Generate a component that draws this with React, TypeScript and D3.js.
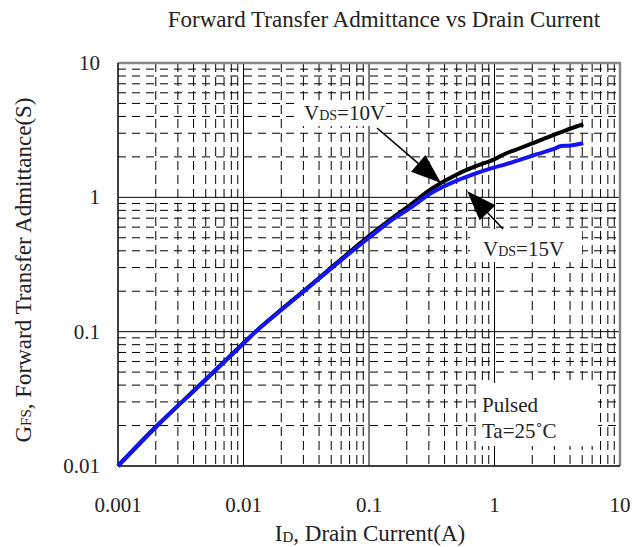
import React from "react";
import * as d3 from "d3";

const current = [0.001, 0.002, 0.005, 0.01, 0.0122, 0.02, 0.03, 0.05, 0.1, 0.163, 0.2, 0.316, 0.5, 0.7, 1, 1.22, 1.5, 2, 3, 3.4, 4, 5.1];
const vds10 = [0.01, 0.0195, 0.044, 0.082, 0.098, 0.146, 0.2, 0.3, 0.515, 0.73, 0.84, 1.16, 1.48, 1.7, 1.92, 2.11, 2.27, 2.52, 2.93, 3.06, 3.24, 3.5];
const vds15 = [0.01, 0.0195, 0.044, 0.082, 0.098, 0.145, 0.198, 0.296, 0.5, 0.71, 0.8, 1.08, 1.33, 1.5, 1.67, 1.76, 1.87, 2.04, 2.3, 2.41, 2.43, 2.53];
const xTicks = [0.001, 0.01, 0.1, 1, 10];
const yTicks = [0.01, 0.1, 1, 10];
const xTickLabels = ["0.001", "0.01", "0.1", "1", "10"];
const yTickLabels = ["0.01", "0.1", "1", "10"];

const W = 634, H = 547;
const L = 118, R = 620, T = 63, B = 466;
const font = "'Liberation Serif', 'Times New Roman', serif";

export default function App() {
  const x = d3.scaleLog().domain([0.001, 10]).range([L, R]);
  const y = d3.scaleLog().domain([0.01, 10]).range([B, T]);
  const minorX: number[] = [];
  const minorY: number[] = [];
  for (let e = -3; e < 1; e++) for (let m = 2; m <= 9; m++) minorX.push(m * Math.pow(10, e));
  for (let e = -2; e < 1; e++) for (let m = 2; m <= 9; m++) minorY.push(m * Math.pow(10, e));
  const line = d3.line<number>().x((_, i) => x(current[i])).y((d) => y(d)).curve(d3.curveMonotoneX);

  const arrow = (x1: number, y1: number, x2: number, y2: number, len = 30, hw = 11) => {
    const a = Math.atan2(y2 - y1, x2 - x1);
    const bx = x2 - len * Math.cos(a), by = y2 - len * Math.sin(a);
    const px = -Math.sin(a) * hw, py = Math.cos(a) * hw;
    return (
      <g>
        <line x1={x1} y1={y1} x2={bx} y2={by} stroke="#000" strokeWidth={1.6} />
        <polygon points={`${x2},${y2} ${bx + px},${by + py} ${bx - px},${by - py}`} fill="#000" />
      </g>
    );
  };

  return (
    <svg width={W} height={H} style={{ position: "absolute", left: 0, top: 0 }} fontFamily={font}>
      <rect x={0} y={0} width={W} height={H} fill="#fff" />
      <text x={384} y={27} fontSize={23} textAnchor="middle" fill="#222">Forward Transfer Admittance vs Drain Current</text>
      {/* minor grid */}
      {minorX.map((v, i) => (
        <line key={"mx" + i} x1={x(v)} x2={x(v)} y1={T} y2={B} stroke="#000" strokeWidth={1} strokeDasharray="9,5" />
      ))}
      {minorY.map((v, i) => (
        <line key={"my" + i} x1={L} x2={R} y1={y(v)} y2={y(v)} stroke="#000" strokeWidth={1} strokeDasharray="8,6" />
      ))}
      {/* major grid */}
      {xTicks.slice(1, -1).map((v, i) => (
        <line key={"Mx" + i} x1={x(v)} x2={x(v)} y1={T} y2={B} stroke="#000" strokeWidth={1} />
      ))}
      {yTicks.slice(1, -1).map((v, i) => (
        <line key={"My" + i} x1={L} x2={R} y1={y(v)} y2={y(v)} stroke="#000" strokeWidth={1} />
      ))}
      {/* label backgrounds */}
      <rect x={300} y={100} width={86} height={26} fill="#fff" />
      <rect x={470} y={229} width={112} height={33} fill="#fff" />
      <rect x={478} y={383} width={120} height={63} fill="#fff" />
      {/* frame */}
      <line x1={L} x2={R + 1} y1={T} y2={T} stroke="#888" strokeWidth={2.5} />
      <line x1={R} x2={R} y1={T} y2={B} stroke="#888" strokeWidth={2.5} />
      <line x1={L} x2={L} y1={T} y2={B} stroke="#000" strokeWidth={1.5} />
      <line x1={L} x2={R} y1={B} y2={B} stroke="#000" strokeWidth={1.5} />
      {/* curves */}
      <path d={line(vds10) || ""} fill="none" stroke="#000" strokeWidth={4} strokeLinejoin="round" />
      <path d={line(vds15) || ""} fill="none" stroke="#1414f0" strokeWidth={4} strokeLinejoin="round" />
      {/* tick labels */}
      {xTicks.map((v, i) => (
        <text key={"xt" + i} x={x(v)} y={512} fontSize={21} textAnchor="middle" fill="#222">{xTickLabels[i]}</text>
      ))}
      {yTicks.map((v, i) => (
        <text key={"yt" + i} x={100} y={y(v) + 7} fontSize={21} textAnchor="end" fill="#222">{yTickLabels[i]}</text>
      ))}
      {/* axis titles */}
      <text x={370} y={541} fontSize={23} textAnchor="middle" fill="#222">
        I<tspan fontSize={15} dy={1}>D</tspan><tspan dy={-1}>, Drain Current(A)</tspan>
      </text>
      <text transform="translate(31,270) rotate(-90)" fontSize={23} textAnchor="middle" fill="#222">
        G<tspan fontSize={15}>FS</tspan>, Forward Transfer Admittance(S)
      </text>
      {/* annotations */}
      <text x={304} y={120} fontSize={21} fill="#222">V<tspan fontSize={14}>DS</tspan>=10V</text>
      {arrow(377, 128, 441, 183)}
      <text x={483} y={256} fontSize={21} fill="#222">V<tspan fontSize={14}>DS</tspan>=15V</text>
      {arrow(503, 229, 467, 191)}
      <text x={482} y={412} fontSize={21} fill="#222">Pulsed</text>
      <text x={482} y={438} fontSize={21} fill="#222">Ta=25˚C</text>
    </svg>
  );
}
